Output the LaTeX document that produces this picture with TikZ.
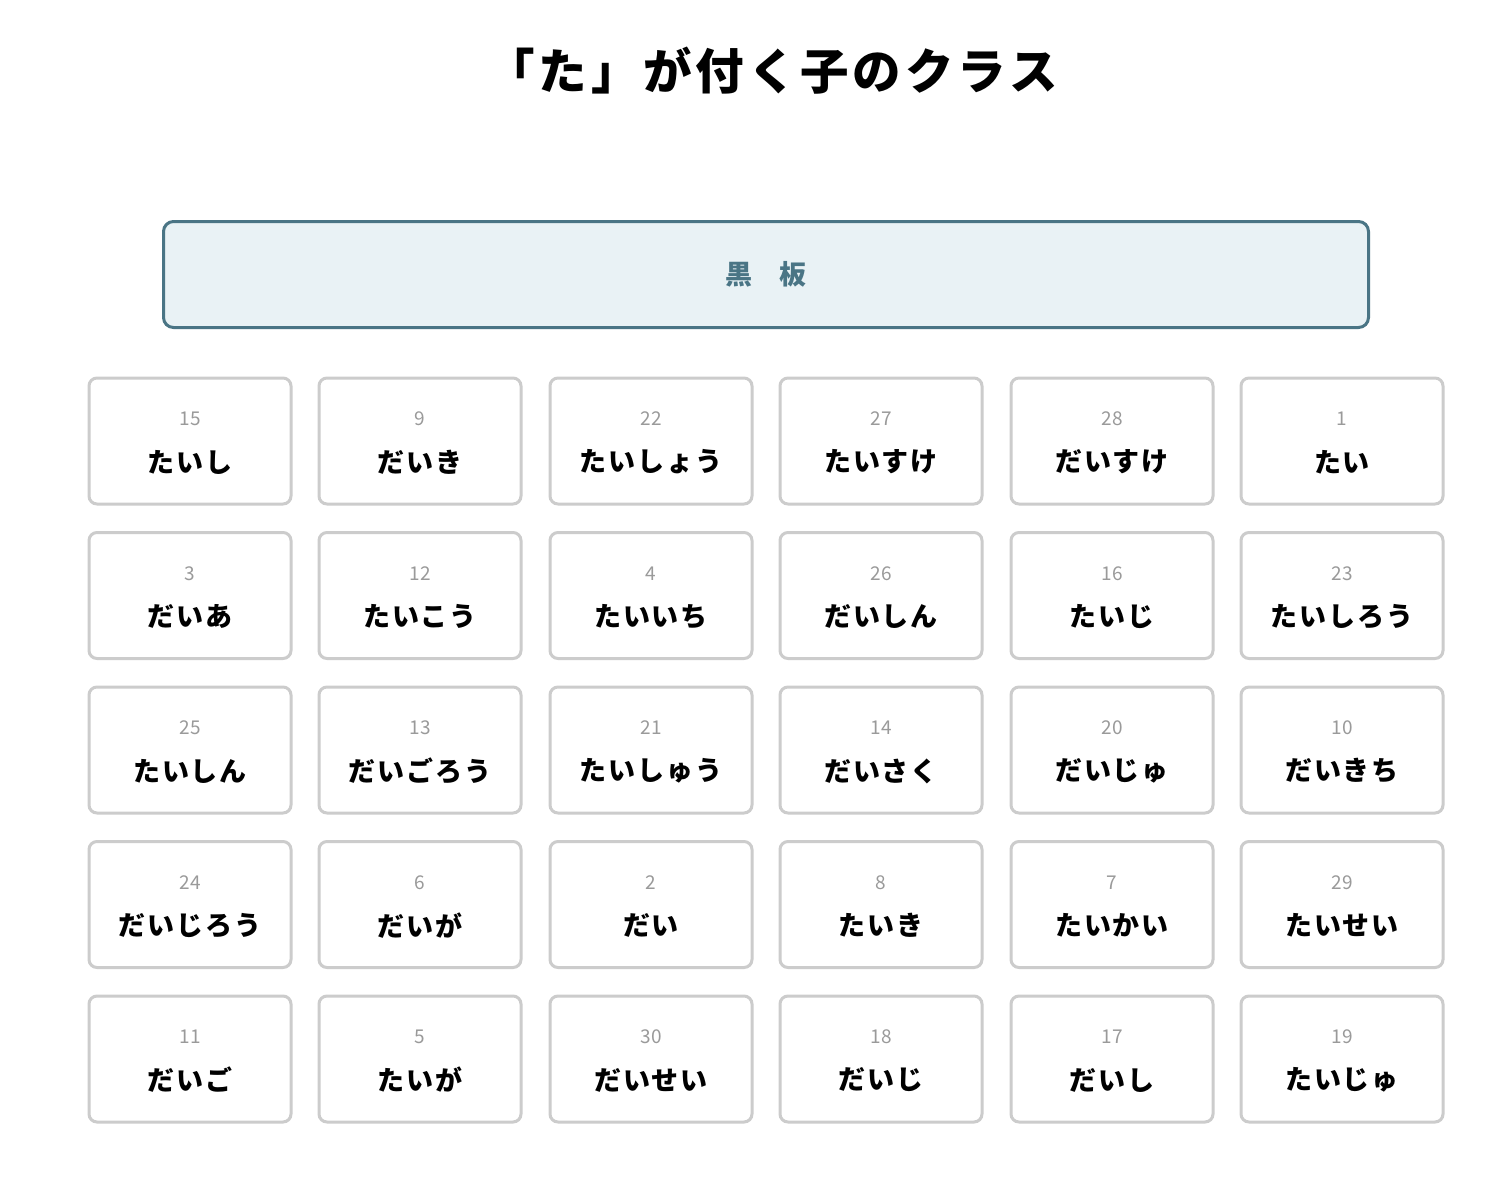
\documentclass[tikz,border=0pt]{standalone}
\usepackage{fontspec}
\newfontfamily\jp{Noto Sans CJK JP}
\definecolor{bbline}{HTML}{4A7585}
\definecolor{bbfill}{HTML}{E9F2F5}
\definecolor{cellline}{HTML}{CCCCCC}
\definecolor{numgray}{HTML}{9A9A9A}
\begin{document}
\begin{tikzpicture}[x=1pt,y=-1pt,
  cell/.style={draw=cellline,line width=3pt,rounded corners=8pt,fill=white,minimum width=202pt,minimum height=126pt,inner sep=0pt},
  num/.style={text=numgray,font=\jp\fontsize{19}{19}\selectfont,inner sep=0pt},
  kana/.style={text=black,font=\jp\bfseries\fontsize{27}{27}\selectfont\addfontfeature{LetterSpace=7},inner sep=0pt},
  board/.style={draw=bbline,fill=bbfill,line width=3pt,rounded corners=10pt,minimum width=1205pt,minimum height=106pt,inner sep=0pt},
  boardtext/.style={text=bbline,font=\jp\bfseries\fontsize{27}{27}\selectfont},
  titletext/.style={font=\jp\bfseries\fontsize{48.5}{48.5}\selectfont\addfontfeature{LetterSpace=8}}]
\useasboundingbox (0,0) rectangle (1490,1176);
\fill[white] (0,0) rectangle (1490,1176);
\node[titletext] (title) at (772,71) {「た」が付く子のクラス};
\node[board] (bb) at (766,274.5) {};
\node[boardtext] (bbt) at (bb.center) {黒　板};
\foreach \r/\y in {1/441,2/595.5,3/750,4/904.5,5/1059}{
  \foreach \c/\x in {1/190,2/420,3/651,4/881,5/1112,6/1342}{
    \node[cell] (cell-\r-\c) at (\x,\y) {};
  }
}
\foreach \r/\c/\n/\k in {
 1/1/15/たいし,1/2/9/だいき,1/3/22/たいしょう,1/4/27/たいすけ,1/5/28/だいすけ,1/6/1/たい,
 2/1/3/だいあ,2/2/12/たいこう,2/3/4/たいいち,2/4/26/だいしん,2/5/16/たいじ,2/6/23/たいしろう,
 3/1/25/たいしん,3/2/13/だいごろう,3/3/21/たいしゅう,3/4/14/だいさく,3/5/20/だいじゅ,3/6/10/だいきち,
 4/1/24/だいじろう,4/2/6/だいが,4/3/2/だい,4/4/8/たいき,4/5/7/たいかい,4/6/29/たいせい,
 5/1/11/だいご,5/2/5/たいが,5/3/30/だいせい,5/4/18/だいじ,5/5/17/だいし,5/6/19/たいじゅ}{
  \node[num] (num-\r-\c) at ([yshift=22pt]cell-\r-\c.center) {\n};
  \node[kana] (name-\r-\c) at ([yshift=-21pt]cell-\r-\c.center) {\k};
}
\end{tikzpicture}
\end{document}
